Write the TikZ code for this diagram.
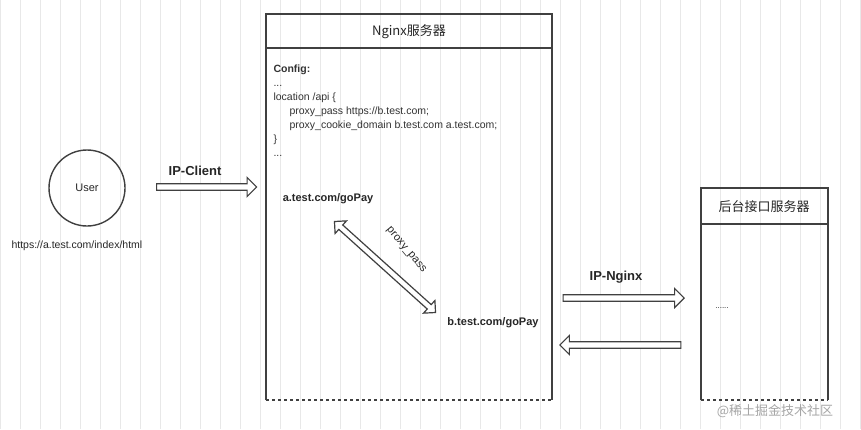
\documentclass[tikz,border=0pt]{standalone}
\usepackage{fontspec}
\setmainfont{Liberation Sans}
\newfontfamily\cjk{Noto Sans CJK SC}
\usetikzlibrary{shapes.arrows}
\begin{document}
\begin{tikzpicture}[x=1pt,y=-1pt,
  blk/.style={draw=black!75,line width=1.4pt},
  harrow/.style={single arrow,draw=black!75,line width=1.2pt,fill=white,minimum width=19pt,single arrow head extend=4pt,single arrow head indent=0pt,inner sep=1.5pt},
  lbl/.style={font=\fontsize{11}{13}\selectfont,text=black!85},
  code/.style={font=\fontsize{10.5}{14}\selectfont,text=black!80,align=left}]
\useasboundingbox (0,0) rectangle (861,429);
\fill[white] (0,0) rectangle (861,429);
\draw[black!9,step=20] (0,0) grid (861,429);
% user
\node[draw=black!75,line width=1.4pt,circle,minimum size=76pt,lbl,font=\fontsize{11}{12}\selectfont] (user) at (87,188) {User};
\node[lbl,font=\fontsize{10.5}{12}\selectfont,anchor=west] (url) at (8,246) {https://a.test.com/index/html};
% nginx box
\coordinate (n1) at (266,400); \coordinate (n2) at (552,400);
\draw[blk] (266,400) -- (266,14) -- (552,14) -- (552,400);
\draw[blk] (266,48) -- (552,48);
\draw[blk,dashed] (n1) -- (n2);
\node[lbl,font=\fontsize{13}{14}\selectfont\cjk] (ntitle) at (409,32) {Nginx服务器};
\node[code,anchor=north west] (cfg) at (270,61) {\textbf{Config:}\\...\\location /api \{\\\hspace{16pt}proxy\_pass https://b.test.com;\\\hspace{16pt}proxy\_cookie\_domain b.test.com a.test.com;\\\}\\...};
\node[lbl,font=\bfseries\fontsize{11}{12}\selectfont] (a) at (328,199) {a.test.com/goPay};
\node[lbl,font=\bfseries\fontsize{11}{12}\selectfont] (b) at (493,323) {b.test.com/goPay};
\node[double arrow,draw=black!75,line width=1.2pt,fill=white,minimum width=17pt,double arrow head extend=3pt,inner sep=1pt,minimum height=136pt,rotate=-42] (pp) at (385,267) {};
\node[lbl,font=\fontsize{11}{12}\selectfont,rotate=-50] (ppl) at (406,250) {proxy\_pass};
% backend
\draw[blk] (701,400) -- (701,188) -- (828,188) -- (828,400);
\draw[blk] (701,224) -- (828,224);
\draw[blk,dashed] (701,400) -- (828,400);
\node[lbl,font=\fontsize{13}{14}\selectfont\cjk] (btitle) at (764,207) {后台接口服务器};
\node[lbl,font=\fontsize{8}{10}\selectfont] (dots) at (722,308) {......};
% arrows
\node[harrow,minimum height=100pt] (ic) at (205,187) {};
\node[lbl,font=\bfseries\fontsize{13}{14}\selectfont] (icl) at (195,171) {IP-Client};
\node[harrow,minimum height=121pt] (in) at (622,298) {};
\node[lbl,font=\bfseries\fontsize{13}{14}\selectfont] (inl) at (616,277) {IP-Nginx};
\node[harrow,minimum height=121pt,shape border rotate=180] (back) at (622,345) {};
\node[font=\fontsize{13}{15}\selectfont\cjk,text=black!35] (wm) at (775,411) {@稀土掘金技术社区};
\end{tikzpicture}
\end{document}
